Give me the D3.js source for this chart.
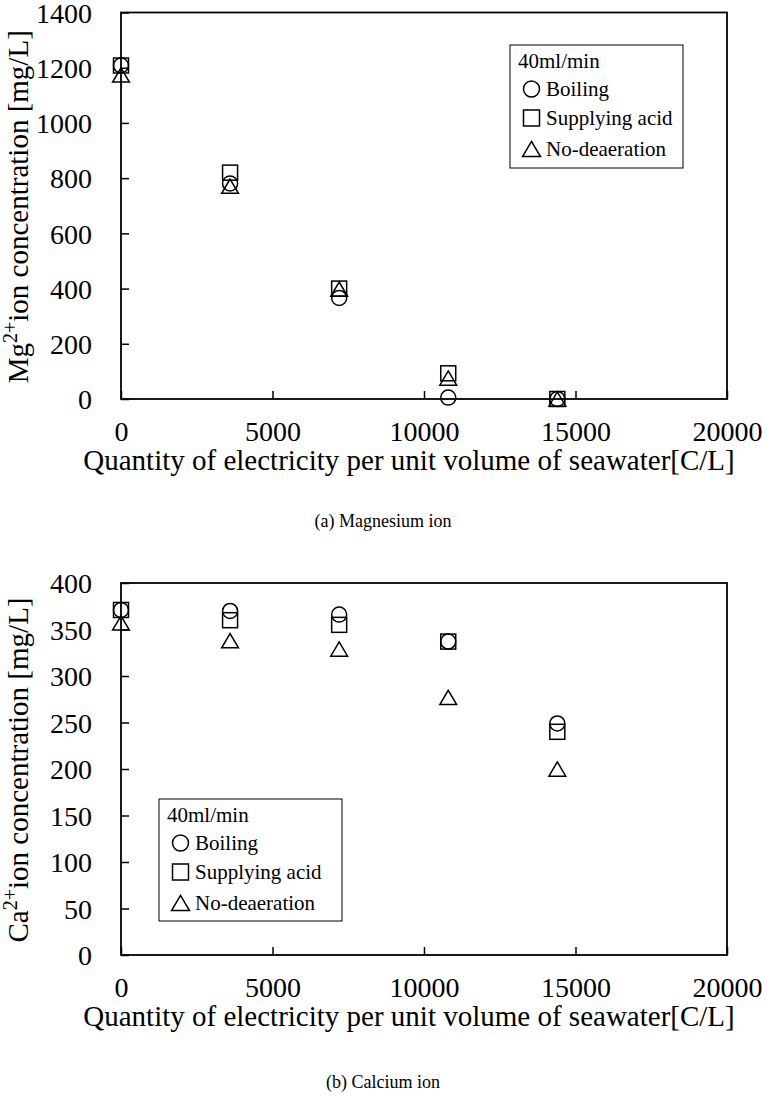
<!DOCTYPE html>
<html><head><meta charset="utf-8">
<script src="https://cdn.jsdelivr.net/npm/d3@7"></script>
<style>body{margin:0;background:#fff}</style>
</head><body><svg id="c" width="767" height="1100"></svg>
<script>
const xValues = [0, 3600, 7200, 10800, 14400];
const seriesNames = ["Boiling", "Supplying acid", "No-deaeration"];
const seriesShapes = ["circle", "square", "triangle"];
const mgBoiling = [1208, 781, 366, 5, 0];
const mgAcid = [1208, 820, 400, 93, 0];
const mgNoDeaer = [1174, 771, 398, 76, 0];
const caBoiling = [371, 370, 366, 337, 249];
const caAcid = [371, 360, 355, 337, 240];
const caNoDeaer = [357, 338, 329, 277, 200];
const xTicks = [0, 5000, 10000, 15000, 20000];
const mgTicks = [0, 200, 400, 600, 800, 1000, 1200, 1400];
const caTicks = [0, 50, 100, 150, 200, 250, 300, 350, 400];
const legendTitle = "40ml/min";
const xTitle = "Quantity of electricity per unit volume of seawater[C/L]";

const FONT = "'Liberation Serif','Times New Roman',Times,serif";
const svg = d3.select("#c");

function marker(g, shape, cx, cy, s) {
  if (shape === "circle") {
    g.append("circle").attr("cx", cx).attr("cy", cy).attr("r", s / 2)
      .attr("fill", "none").attr("stroke", "#000").attr("stroke-width", 1.5);
  } else if (shape === "square") {
    g.append("rect").attr("x", cx - s / 2).attr("y", cy - s / 2).attr("width", s).attr("height", s)
      .attr("fill", "none").attr("stroke", "#000").attr("stroke-width", 1.5);
  } else {
    const w = s * 1.12, h = s * 0.95;
    g.append("path").attr("d", `M${cx},${cy - h / 2}L${cx + w / 2},${cy + h / 2}L${cx - w / 2},${cy + h / 2}Z`)
      .attr("fill", "none").attr("stroke", "#000").attr("stroke-width", 1.5);
  }
}

function panel(cfg) {
  const x = d3.scaleLinear().domain([0, 20000]).range([cfg.left, cfg.right]);
  const y = d3.scaleLinear().domain([0, cfg.yMax]).range([cfg.bottom, cfg.top]);
  const g = svg.append("g");

  const xa = g.append("g").attr("transform", `translate(0,${cfg.bottom})`)
    .call(d3.axisBottom(x).tickValues(xTicks).tickFormat(d3.format("d")).tickSizeInner(-8).tickSizeOuter(0));
  xa.selectAll("text").attr("font-family", FONT).attr("font-size", 28).attr("fill", "#000")
    .attr("y", 42).attr("dy", null);
  xa.selectAll("line").attr("stroke", "#000").attr("stroke-width", 1.5);
  xa.select(".domain").remove();

  const ya = g.append("g").attr("transform", `translate(${cfg.left},0)`)
    .call(d3.axisLeft(y).tickValues(cfg.yTicks).tickFormat(d3.format("d")).tickSizeInner(-8).tickSizeOuter(0));
  ya.selectAll("text").attr("font-family", FONT).attr("font-size", 28).attr("fill", "#000")
    .attr("x", -29).attr("text-anchor", "end").attr("dy", "0.35em");
  ya.selectAll("line").attr("stroke", "#000").attr("stroke-width", 1.5);
  ya.select(".domain").remove();

  g.append("rect").attr("x", cfg.left).attr("y", cfg.top)
    .attr("width", cfg.right - cfg.left).attr("height", cfg.bottom - cfg.top)
    .attr("fill", "none").attr("stroke", "#000").attr("stroke-width", 1.8);

  const mg = g.append("g");
  const order = [1, 0, 2];
  order.forEach(si => {
    cfg.series[si].forEach((v, i) => marker(mg, seriesShapes[si], x(xValues[i]), y(v), 15));
  });

  // x title
  g.append("text").attr("x", 409).attr("y", cfg.bottom + 71)
    .attr("text-anchor", "middle").attr("font-family", FONT).attr("font-size", 29).attr("fill", "#000")
    .text(xTitle);

  // y title
  const yt = g.append("text")
    .attr("transform", `translate(27.5,${(cfg.top + cfg.bottom) / 2 + 1}) rotate(-90)`)
    .attr("text-anchor", "middle").attr("font-family", FONT).attr("font-size", 29).attr("fill", "#000");
  yt.append("tspan").text(cfg.ion);
  yt.append("tspan").attr("font-size", 20).attr("dy", -11).text("2+");
  yt.append("tspan").attr("dy", 11).text("ion concentration [mg/L]");

  // legend
  const L = cfg.legend;
  const lg = g.append("g");
  lg.append("rect").attr("x", L.x).attr("y", L.y).attr("width", L.w).attr("height", L.h)
    .attr("fill", "#fff").attr("stroke", "#000").attr("stroke-width", 1);
  lg.append("text").attr("x", L.x + 8).attr("y", L.y + 23).attr("font-family", FONT)
    .attr("font-size", 21).attr("fill", "#000").text(legendTitle);
  const rows = [44, 73, 104];
  seriesNames.forEach((n, i) => {
    marker(lg, seriesShapes[i], L.x + 21.5, L.y + rows[i], 16);
    lg.append("text").attr("x", L.x + 36).attr("y", L.y + rows[i]).attr("dy", "0.35em")
      .attr("font-family", FONT).attr("font-size", 21).attr("fill", "#000").text(n);
  });

  g.append("text").attr("x", cfg.capX).attr("y", cfg.capY).attr("text-anchor", "middle")
    .attr("font-family", FONT).attr("font-size", 18).attr("fill", "#000").text(cfg.caption);
}

panel({
  left: 121, right: 727, top: 12.5, bottom: 399, yMax: 1400, yTicks: mgTicks,
  series: [mgBoiling, mgAcid, mgNoDeaer], ion: "Mg",
  legend: { x: 510, y: 45, w: 173, h: 123 },
  caption: "(a) Magnesium ion", capX: 383, capY: 527
});
panel({
  left: 121, right: 727, top: 583, bottom: 955, yMax: 400, yTicks: caTicks,
  series: [caBoiling, caAcid, caNoDeaer], ion: "Ca",
  legend: { x: 159, y: 799, w: 183, h: 122 },
  caption: "(b) Calcium ion", capX: 383, capY: 1088
});
</script></body></html>
